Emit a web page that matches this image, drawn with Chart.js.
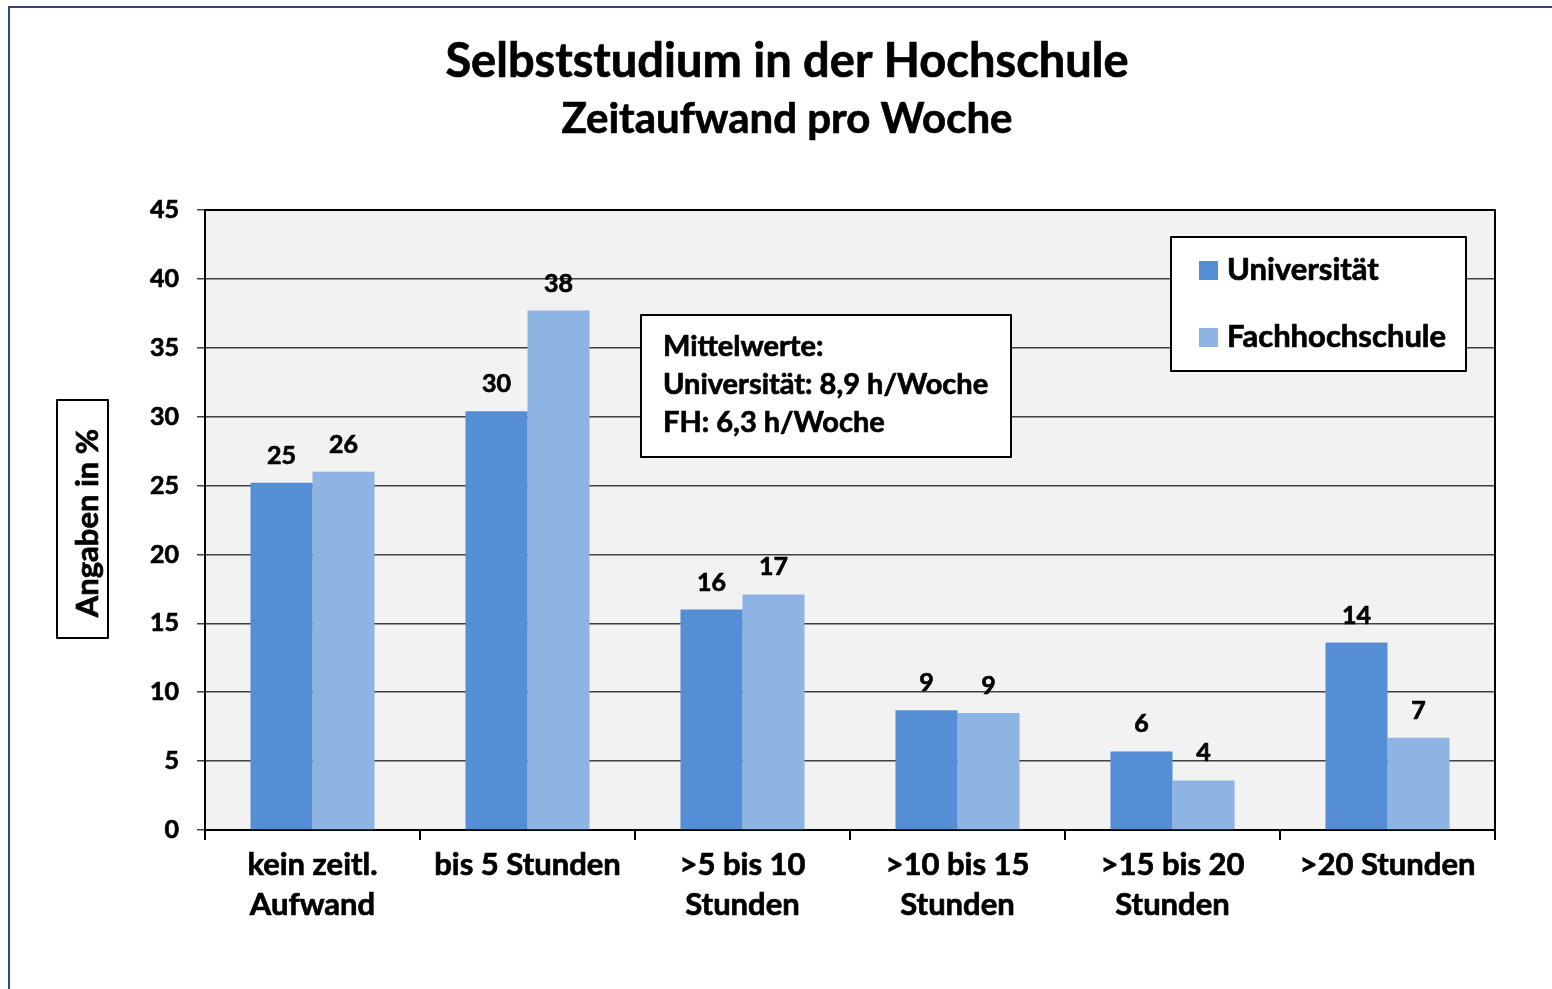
<!DOCTYPE html>
<html>
<head>
<meta charset="utf-8">
<script src="https://cdn.jsdelivr.net/npm/chart.js@4/dist/chart.umd.min.js"></script>
<style>
html,body{margin:0;padding:0;background:#fff;}
#wrap{position:relative;width:1552px;height:989px;}
canvas{display:block;}
</style>
</head>
<body>
<div id="wrap"><canvas id="c" width="1552" height="989"></canvas></div>
<script>
const categories = [
  ["kein zeitl.", "Aufwand"],
  ["bis 5 Stunden"],
  [">5 bis 10", "Stunden"],
  [">10 bis 15", "Stunden"],
  [">15 bis 20", "Stunden"],
  [">20 Stunden"]
];
const seriesNames = ["Universität", "Fachhochschule"];
const uniValues = [25.2, 30.4, 16.0, 8.7, 5.7, 13.6];
const fhValues  = [26.0, 37.7, 17.1, 8.5, 3.6, 6.7];
const yTicks = [0, 5, 10, 15, 20, 25, 30, 35, 40, 45];
const titleText = "Selbststudium in der Hochschule";
const subtitleText = "Zeitaufwand pro Woche";
const yAxisTitle = "Angaben in %";
const noteLines = ["Mittelwerte:", "Universität: 8,9 h/Woche", "FH: 6,3 h/Woche"];

const FONT = "Lato, Carlito, Calibri, sans-serif";
const colors = ["#558ED5", "#8EB4E3"];
const STROKE = 0.7;

function boldText(ctx, t, x, y) {
  ctx.fillText(t, x, y);
  ctx.lineWidth = STROKE;
  ctx.strokeStyle = ctx.fillStyle;
  ctx.lineJoin = "round";
  ctx.strokeText(t, x, y);
}

const decorPlugin = {
  id: "decor",
  beforeDraw(chart) {
    const ctx = chart.ctx;
    const a = chart.chartArea;
    ctx.save();
    ctx.fillStyle = "#ffffff";
    ctx.fillRect(0, 0, chart.width, chart.height);
    ctx.strokeStyle = "#2F4A78";
    ctx.lineWidth = 2;
    ctx.strokeRect(9, 7, chart.width + 20, chart.height + 20);
    ctx.fillStyle = "#F2F2F2";
    ctx.fillRect(a.left, a.top, a.right - a.left, a.bottom - a.top);
    ctx.restore();
  },
  afterDatasetsDraw(chart) {
    const ctx = chart.ctx;
    const a = chart.chartArea;
    ctx.save();
    ctx.fillStyle = "#000";
    ctx.font = "bold 25px " + FONT;
    ctx.textAlign = "center";
    ctx.textBaseline = "alphabetic";
    chart.data.datasets.forEach((ds, di) => {
      const meta = chart.getDatasetMeta(di);
      meta.data.forEach((bar, i) => {
        boldText(ctx, String(Math.round(ds.data[i])), bar.x, bar.y - 19);
      });
    });
    ctx.strokeStyle = "#000";
    ctx.lineWidth = 2;
    ctx.beginPath();
    ctx.moveTo(a.left, a.top);
    ctx.lineTo(a.right, a.top);
    ctx.lineTo(a.right, a.bottom);
    ctx.stroke();

    ctx.fillStyle = "#000";
    ctx.textAlign = "center";
    ctx.font = "bold 47px " + FONT;
    boldText(ctx, titleText, 787, 77);
    ctx.font = "bold 42px " + FONT;
    boldText(ctx, subtitleText, 787, 133);

    ctx.fillStyle = "#fff";
    ctx.fillRect(57, 400, 51, 238);
    ctx.strokeStyle = "#000";
    ctx.lineWidth = 2;
    ctx.strokeRect(57, 400, 51, 238);
    ctx.save();
    ctx.translate(88, 523);
    ctx.rotate(-Math.PI / 2);
    ctx.fillStyle = "#000";
    ctx.font = "bold 31px " + FONT;
    ctx.textAlign = "center";
    ctx.textBaseline = "middle";
    boldText(ctx, yAxisTitle, 0, 0);
    ctx.restore();

    ctx.fillStyle = "#fff";
    ctx.fillRect(641, 315, 370, 142);
    ctx.strokeStyle = "#000";
    ctx.lineWidth = 2;
    ctx.strokeRect(641, 315, 370, 142);
    ctx.fillStyle = "#000";
    ctx.font = "bold 29px " + FONT;
    ctx.textAlign = "left";
    ctx.textBaseline = "alphabetic";
    noteLines.forEach((t, i) => boldText(ctx, t, 663, 356 + i * 38));

    ctx.fillStyle = "#fff";
    ctx.fillRect(1171, 237, 295, 134);
    ctx.strokeStyle = "#000";
    ctx.lineWidth = 2;
    ctx.strokeRect(1171, 237, 295, 134);
    ctx.font = "bold 31px " + FONT;
    seriesNames.forEach((n, i) => {
      const cy = 270 + i * 67;
      ctx.fillStyle = colors[i];
      ctx.fillRect(1199, cy - 9, 19, 19);
      ctx.fillStyle = "#000";
      ctx.textBaseline = "middle";
      boldText(ctx, n, 1227, cy);
    });
    ctx.restore();
  }
};

new Chart(document.getElementById("c"), {
  type: "bar",
  data: {
    labels: categories,
    datasets: [
      { label: seriesNames[0], data: uniValues, backgroundColor: colors[0] },
      { label: seriesNames[1], data: fhValues, backgroundColor: colors[1] }
    ]
  },
  options: {
    responsive: false,
    animation: false,
    devicePixelRatio: 1,
    layout: { padding: { left: 0, top: 210, right: 57, bottom: 0 } },
    plugins: { legend: { display: false }, title: { display: false }, tooltip: { enabled: false } },
    datasets: { bar: { categoryPercentage: 0.577, barPercentage: 1.0 } },
    scales: {
      x: {
        grid: { drawOnChartArea: false, drawTicks: true, tickLength: 10, color: "#000", lineWidth: 2, offset: true },
        border: { display: true, color: "#000", width: 2 },
        ticks: { color: "#000", font: { family: FONT, size: 31, weight: "bold", lineHeight: 1.3 }, padding: 5, maxRotation: 0, autoSkip: false, textStrokeColor: "#000", textStrokeWidth: STROKE },
        afterFit(s) { s.height = 159; }
      },
      y: {
        min: 0, max: 45,
        afterBuildTicks(s) { s.ticks = yTicks.map(v => ({ value: v })); },
        grid: { color: "#404040", lineWidth: 1.5, drawTicks: true, tickLength: 8 },
        border: { display: true, color: "#000", width: 2 },
        ticks: { color: "#000", font: { family: FONT, size: 25, weight: "bold" }, padding: 18, textStrokeColor: "#000", textStrokeWidth: STROKE },
        afterFit(s) { s.width = 205; }
      }
    }
  },
  plugins: [decorPlugin]
});
</script>
</body>
</html>
